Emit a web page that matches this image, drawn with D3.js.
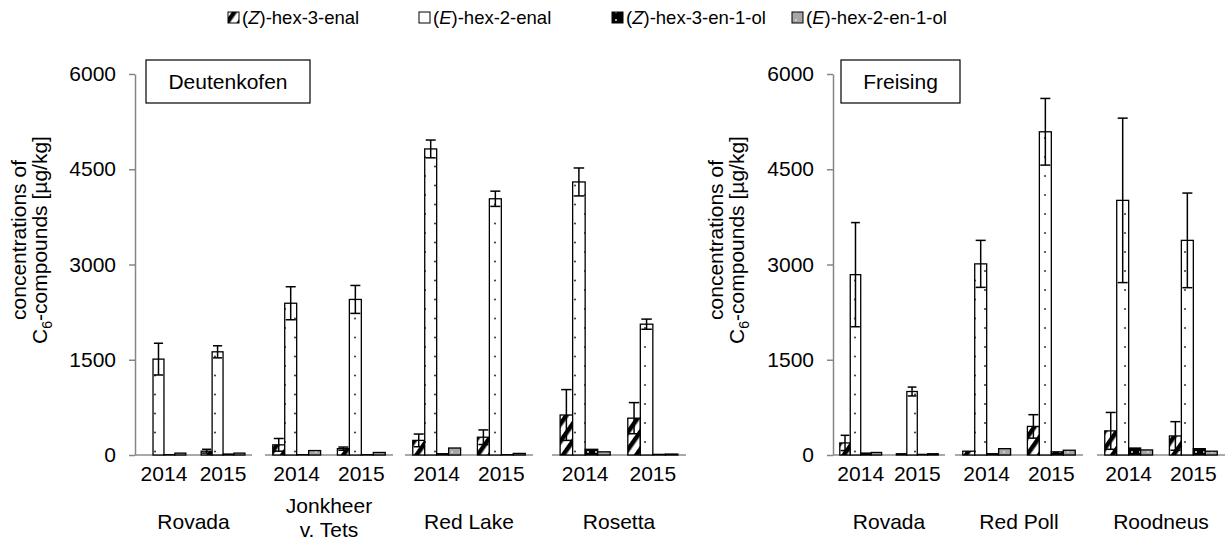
<!DOCTYPE html>
<html>
<head>
<meta charset="utf-8">
<script src="https://cdn.jsdelivr.net/npm/d3@7"></script>
<style>
  body { margin: 0; background: #fff; }
  text { font-family: "Liberation Sans", Arial, Helvetica, sans-serif; fill: #000; }
</style>
</head>
<body>
<svg id="chart" width="1225" height="544"></svg>
<script>
// ---- data -------------------------------------------------------------
const seriesNames = ["(Z)-hex-3-enal", "(E)-hex-2-enal", "(Z)-hex-3-en-1-ol", "(E)-hex-2-en-1-ol"];
const years = ["2014", "2015"];
const yTicks = [0, 1500, 3000, 4500, 6000];

// Deutenkofen: values per variety, 2014 then 2015
const deutVarieties = ["Rovada", "Jonkheer\nv. Tets", "Red Lake", "Rosetta"];
const deutZHexenal   = [0, 60, 160, 100, 230, 280, 630, 580];
const deutZHexenalSd = [0, 30, 100, 25, 100, 115, 400, 245];
const deutEHexenal   = [1510, 1625, 2390, 2450, 4820, 4035, 4300, 2060];
const deutEHexenalSd = [250, 95, 260, 220, 140, 120, 220, 80];
const deutZHexenol   = [5, 15, 5, 5, 20, 5, 90, 10];
const deutEHexenol   = [30, 30, 70, 40, 110, 25, 50, 15];

// Freising
const freiVarieties = ["Rovada", "Red Poll", "Roodneus"];
const freiZHexenal   = [190, 20, 60, 450, 380, 300];
const freiZHexenalSd = [120, 0, 0, 185, 290, 225];
const freiEHexenal   = [2840, 1000, 3010, 5090, 4010, 3380];
const freiEHexenalSd = [820, 70, 370, 525, 1295, 745];
const freiZHexenol   = [30, 10, 20, 50, 110, 100];
const freiEHexenol   = [40, 20, 100, 75, 80, 60];

// ---- layout -----------------------------------------------------------
const FONT = 21;
const svg = d3.select("#chart");
const y = d3.scaleLinear().domain([0, 6000]).range([455, 74]);

const panels = [
  {
    title: "Deutenkofen", axisX: 135, box: [146, 60, 164, 43], labelX: [26, 47],
    spans: [[135, 252], [265, 393], [405, 533], [552, 686]],
    varieties: deutVarieties,
    values: [deutZHexenal, deutEHexenal, deutZHexenol, deutEHexenol],
    sds: [deutZHexenalSd, deutEHexenalSd, null, null]
  },
  {
    title: "Freising", axisX: 833, box: [841, 60, 119, 43], labelX: [723, 744],
    spans: [[833, 945], [955, 1083], [1097, 1225]],
    varieties: freiVarieties,
    values: [freiZHexenal, freiEHexenal, freiZHexenol, freiEHexenol],
    sds: [freiZHexenalSd, freiEHexenalSd, null, null]
  }
];

// ---- fill patterns ----------------------------------------------------
const defs = svg.append("defs");

const pz = defs.append("pattern").attr("id", "pat0").attr("patternUnits", "userSpaceOnUse")
  .attr("width", 10).attr("height", 10).attr("patternTransform", "rotate(35)");
pz.append("rect").attr("width", 10).attr("height", 10).attr("fill", "#fff");
pz.append("rect").attr("width", 4.5).attr("height", 10).attr("fill", "#000");

const pe = defs.append("pattern").attr("id", "pat1").attr("patternUnits", "userSpaceOnUse")
  .attr("width", 20).attr("height", 19);
pe.append("rect").attr("width", 20).attr("height", 19).attr("fill", "#fff");
pe.append("circle").attr("cx", 5).attr("cy", 5).attr("r", 1.1).attr("fill", "#444");
pe.append("circle").attr("cx", 15).attr("cy", 14.5).attr("r", 1.1).attr("fill", "#444");

const pzo = defs.append("pattern").attr("id", "pat2").attr("patternUnits", "userSpaceOnUse")
  .attr("width", 8).attr("height", 8);
pzo.append("rect").attr("width", 8).attr("height", 8).attr("fill", "#000");
pzo.append("circle").attr("cx", 4).attr("cy", 4).attr("r", 0.9).attr("fill", "#fff");

const peo = defs.append("pattern").attr("id", "pat3").attr("patternUnits", "userSpaceOnUse")
  .attr("width", 8).attr("height", 8);
peo.append("rect").attr("width", 8).attr("height", 8).attr("fill", "#a6a6a6");
peo.append("circle").attr("cx", 4).attr("cy", 4).attr("r", 0.9).attr("fill", "#e0e0e0");

const fills = ["url(#pat0)", "url(#pat1)", "url(#pat2)", "url(#pat3)"];

// label with italic isomer letter, e.g. "(Z)-hex-3-enal"
function isomerLabel(sel, name) {
  const m = name.match(/^\((\w)\)(.*)$/);
  sel.append("tspan").text("(");
  sel.append("tspan").attr("font-style", "italic").text(m[1]);
  sel.append("tspan").text(")" + m[2]);
}

// ---- legend -----------------------------------------------------------
const legendX = [228, 419, 612, 792];
const legend = svg.append("g");
seriesNames.forEach((name, i) => {
  const g = legend.append("g").attr("transform", `translate(${legendX[i]},0)`);
  g.append("rect").attr("x", 0).attr("y", 12).attr("width", 11).attr("height", 11)
    .attr("fill", fills[i]).attr("stroke", "#000").attr("stroke-width", 1);
  const t = g.append("text").attr("x", 14).attr("y", 24).attr("font-size", 18.5);
  isomerLabel(t, name);
});

// ---- panels -----------------------------------------------------------
panels.forEach(p => {
  const g = svg.append("g");

  // y axis
  const axis = g.append("g").attr("transform", `translate(${p.axisX},0)`)
    .call(d3.axisLeft(y).tickValues(yTicks).tickFormat(d3.format("d"))
      .tickSize(6).tickSizeOuter(0).tickPadding(13));
  axis.select(".domain").attr("stroke", "#868686").attr("stroke-width", 1.5);
  axis.selectAll(".tick line").attr("stroke", "#868686").attr("stroke-width", 1.5);
  axis.selectAll(".tick text").attr("font-size", FONT)
    .attr("font-family", '"Liberation Sans", Arial, sans-serif').attr("fill", "#000");

  // y axis title
  const yc = 240;
  g.append("text").attr("transform", `translate(${p.labelX[0]},${yc}) rotate(-90)`)
    .attr("text-anchor", "middle").attr("font-size", FONT).text("concentrations of");
  const t2 = g.append("text").attr("transform", `translate(${p.labelX[1]},${yc}) rotate(-90)`)
    .attr("text-anchor", "middle").attr("font-size", FONT);
  t2.append("tspan").text("C");
  t2.append("tspan").attr("font-size", 14).attr("dy", 5).text("6");
  t2.append("tspan").attr("dy", -5).text("-compounds [µg/kg]");

  // site title box
  g.append("rect").attr("x", p.box[0]).attr("y", p.box[1]).attr("width", p.box[2]).attr("height", p.box[3])
    .attr("fill", "#fff").attr("stroke", "#000").attr("stroke-width", 1.2);
  g.append("text").attr("x", p.box[0] + p.box[2] / 2).attr("y", p.box[1] + p.box[3] / 2 + 7)
    .attr("text-anchor", "middle").attr("font-size", FONT).text(p.title);

  p.varieties.forEach((variety, vi) => {
    const span = p.spans[vi];
    const x0 = d3.scaleBand().domain(years).range(span).paddingInner(0.26).paddingOuter(0.12);
    const x1 = d3.scaleBand().domain(d3.range(seriesNames.length)).range([0, x0.bandwidth()]);

    // baseline
    g.append("line").attr("x1", span[0]).attr("x2", span[1]).attr("y1", y(0)).attr("y2", y(0))
      .attr("stroke", "#8c8c8c").attr("stroke-width", 1.5);

    years.forEach((yr, yi) => {
      const idx = vi * years.length + yi;
      const gx = x0(yr);
      seriesNames.forEach((s, si) => {
        const v = p.values[si][idx];
        const bx = gx + x1(si);
        g.append("rect").attr("x", bx).attr("y", y(v)).attr("width", x1.bandwidth())
          .attr("height", y(0) - y(v)).attr("fill", fills[si])
          .attr("stroke", "#000").attr("stroke-width", 1.3);
      });
      // error bars
      seriesNames.forEach((s, si) => {
        if (!p.sds[si]) return;
        const v = p.values[si][idx], sd = p.sds[si][idx];
        if (!sd) return;
        const cx = gx + x1(si) + x1.bandwidth() / 2;
        const hw = x1.bandwidth() * 0.42;
        const lo = Math.max(0, v - sd), hi = v + sd;
        const eb = g.append("g").attr("stroke", "#000").attr("stroke-width", 1.5);
        eb.append("line").attr("x1", cx).attr("x2", cx).attr("y1", y(lo)).attr("y2", y(hi));
        eb.append("line").attr("x1", cx - hw).attr("x2", cx + hw).attr("y1", y(hi)).attr("y2", y(hi));
        eb.append("line").attr("x1", cx - hw).attr("x2", cx + hw).attr("y1", y(lo)).attr("y2", y(lo));
      });
      // year label
      g.append("text").attr("x", gx + x0.bandwidth() / 2).attr("y", 481)
        .attr("text-anchor", "middle").attr("font-size", FONT).text(yr);
    });

    // variety label
    const lines = variety.split("\n");
    const cxv = (span[0] + span[1]) / 2;
    const vt = g.append("text").attr("text-anchor", "middle").attr("font-size", FONT);
    if (lines.length === 1) {
      vt.attr("x", cxv).attr("y", 529).text(lines[0]);
    } else {
      lines.forEach((l, li) => {
        vt.append("tspan").attr("x", cxv).attr("y", 513 + li * 24).text(l);
      });
    }
  });
});
</script>
</body>
</html>
